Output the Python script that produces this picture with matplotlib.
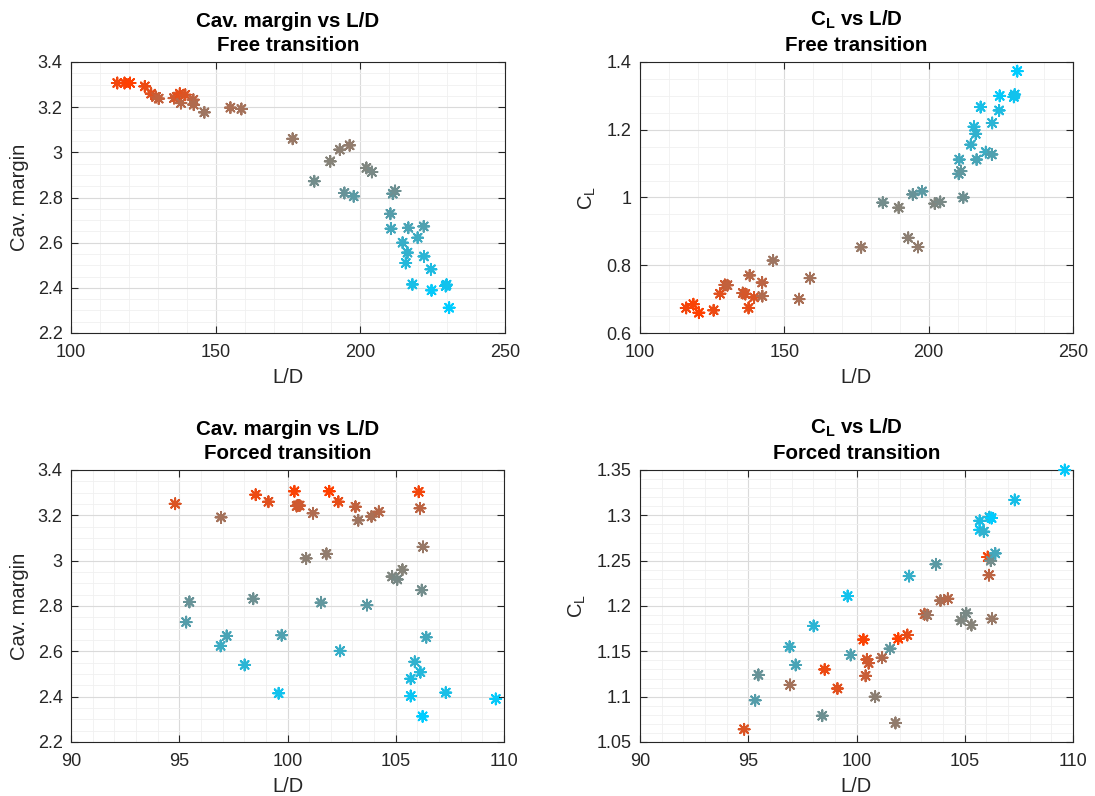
import numpy as np
import matplotlib
matplotlib.use("Agg")
import matplotlib.pyplot as plt
from matplotlib.ticker import MultipleLocator, AutoMinorLocator, FuncFormatter

plt.rcParams['font.family'] = ['Liberation Sans', 'DejaVu Sans']
plt.rcParams['mathtext.fontset'] = 'custom'
plt.rcParams['mathtext.rm'] = 'Liberation Sans'
plt.rcParams['mathtext.bf'] = 'Liberation Sans:bold'

# Free transition runs
ld_free = [116.0, 118.5, 120.4, 125.5, 127.7, 129.4, 130.3, 135.6, 136.5, 137.6,
           138.0, 139.5, 142.3, 142.4, 146.1, 155.1, 158.9, 176.6, 184.1, 189.6,
           192.9, 194.5, 196.3, 197.7, 202.1, 204.0, 210.4, 210.6, 211.2, 212.0,
           214.6, 215.7, 216.3, 216.6, 218.0, 219.8, 221.9, 222.0, 224.4, 224.6,
           229.5, 229.8, 230.7]
cm_free = [3.307, 3.307, 3.307, 3.292, 3.260, 3.245, 3.238, 3.240, 3.245, 3.260,
           3.218, 3.255, 3.233, 3.211, 3.177, 3.198, 3.192, 3.060, 2.872, 2.960,
           3.012, 2.820, 3.031, 2.805, 2.931, 2.913, 2.728, 2.662, 2.817, 2.829,
           2.600, 2.510, 2.556, 2.666, 2.415, 2.622, 2.672, 2.539, 2.482, 2.389,
           2.408, 2.414, 2.312]
cl_free = [0.674, 0.685, 0.660, 0.667, 0.716, 0.742, 0.741, 0.718, 0.715, 0.674,
           0.770, 0.705, 0.749, 0.709, 0.814, 0.700, 0.762, 0.853, 0.985, 0.970,
           0.881, 1.009, 0.854, 1.018, 0.982, 0.987, 1.070, 1.112, 1.078, 1.000,
           1.156, 1.209, 1.188, 1.112, 1.267, 1.134, 1.127, 1.220, 1.257, 1.300,
           1.297, 1.304, 1.373]

# Forced transition runs
ld_forced = [94.81, 95.32, 95.47, 96.91, 96.93, 97.19, 98.02, 98.42, 98.53, 99.12,
             99.59, 99.73, 100.32, 100.42, 100.48, 100.56, 100.86, 101.18, 101.55, 101.80,
             101.93, 102.35, 102.43, 103.14, 103.27, 103.67, 103.88, 104.22, 104.83, 105.07,
             105.31, 105.69, 105.69, 105.88, 106.06, 106.12, 106.14, 106.20, 106.24, 106.26,
             106.41, 107.31, 109.62]
cm_forced = [3.251, 2.729, 2.818, 2.624, 3.191, 2.668, 2.540, 2.832, 3.291, 3.260,
             2.415, 2.671, 3.306, 3.241, 3.244, 3.243, 3.010, 3.209, 2.815, 3.030,
             3.306, 3.260, 2.602, 3.238, 3.178, 2.804, 3.195, 3.216, 2.930, 2.917,
             2.960, 2.479, 2.403, 2.554, 3.304, 3.231, 2.508, 2.870, 2.313, 3.061,
             2.662, 2.418, 2.390]
cl_forced = [1.064, 1.096, 1.124, 1.155, 1.113, 1.135, 1.178, 1.079, 1.130, 1.109,
             1.211, 1.146, 1.163, 1.123, 1.141, 1.137, 1.100, 1.143, 1.153, 1.071,
             1.164, 1.168, 1.233, 1.191, 1.190, 1.246, 1.206, 1.208, 1.184, 1.192,
             1.179, 1.294, 1.284, 1.282, 1.254, 1.234, 1.298, 1.250, 1.297, 1.186,
             1.258, 1.317, 1.350]

HIGH_COLOR = np.array([1.0, 0.25, 0.0])   # largest cavitation margin
LOW_COLOR = np.array([0.0, 0.80, 1.0])    # smallest cavitation margin


def margin_colors(cm):
    """Colour each run by the rank of its cavitation margin within the set."""
    cm = np.asarray(cm)
    order = np.argsort(np.argsort(cm, kind='stable'), kind='stable')
    t = order / (len(cm) - 1)
    return t[:, None] * HIGH_COLOR + (1 - t[:, None]) * LOW_COLOR


fig = plt.figure(figsize=(10.95, 7.96), dpi=100)
W, H = 1095, 796


def make_axes(x0, x1, y0, y1):
    return fig.add_axes([x0 / W, 1 - y1 / H, (x1 - x0) / W, (y1 - y0) / H])


ax_tl = make_axes(71, 505, 62, 333)
ax_tr = make_axes(640, 1073, 62, 333)
ax_bl = make_axes(71, 504, 470, 742)
ax_br = make_axes(640, 1073, 470, 742)

CL_LABEL = r'C$_\mathregular{L}$'
panels = [
    (ax_tl, ld_free, cm_free, cm_free, 'Cav. margin vs L/D\nFree transition', 'Cav. margin',
     (100, 250, 50, 5), (2.2, 3.4, 0.2, 4)),
    (ax_tr, ld_free, cl_free, cm_free, CL_LABEL + ' vs L/D\nFree transition', CL_LABEL,
     (100, 250, 50, 5), (0.6, 1.4, 0.2, 4)),
    (ax_bl, ld_forced, cm_forced, cm_forced, 'Cav. margin vs L/D\nForced transition', 'Cav. margin',
     (90, 110, 5, 5), (2.2, 3.4, 0.2, 4)),
    (ax_br, ld_forced, cl_forced, cm_forced, CL_LABEL + ' vs L/D\nForced transition', CL_LABEL,
     (90, 110, 5, 5), (1.05, 1.35, 0.05, 5)),
]

for ax, x, y, cm, title, ylabel, xs, ys in panels:
    ax.scatter(x, y, c=margin_colors(cm), marker=(8, 2, 0), s=62, linewidths=1.4,
               zorder=3, clip_on=False)
    ax.set_xlim(xs[0], xs[1])
    ax.set_ylim(ys[0], ys[1])
    ax.xaxis.set_major_locator(MultipleLocator(xs[2]))
    ax.xaxis.set_minor_locator(AutoMinorLocator(xs[3]))
    ax.yaxis.set_major_locator(MultipleLocator(ys[2]))
    ax.yaxis.set_minor_locator(AutoMinorLocator(ys[3]))
    ax.yaxis.set_major_formatter(FuncFormatter(lambda v, p: f'{v:g}'))
    ax.grid(which='major', color='#dadada', linewidth=0.8, zorder=0)
    ax.grid(which='minor', color='#f0f0f0', linewidth=0.6, zorder=0)
    ax.set_axisbelow(True)
    ax.tick_params(which='major', direction='in', length=5, width=0.8, top=True, right=True,
                   labelsize=13, colors='#262626')
    ax.tick_params(axis='x', which='major', pad=8)
    ax.tick_params(axis='y', which='major', pad=6)
    ax.tick_params(which='minor', length=0, top=True, right=True)
    for sp in ax.spines.values():
        sp.set_color('#262626')
        sp.set_linewidth(0.8)
    ax.set_title(title, fontsize=14.8, fontweight='bold', color='black', linespacing=1.3, pad=8)
    ax.set_xlabel('L/D', fontsize=14.5, color='#262626', labelpad=5)
    ax.set_ylabel(ylabel, fontsize=14.5, color='#262626', labelpad=6)

fig.savefig('out.png', dpi=100, facecolor='white')
